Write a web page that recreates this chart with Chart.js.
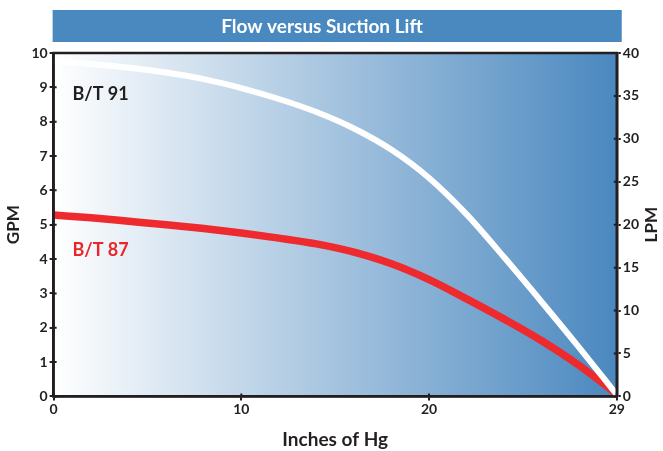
<!DOCTYPE html>
<html>
<head>
<meta charset="utf-8">
<script src="https://cdn.jsdelivr.net/npm/chart.js@4.4.0/dist/chart.umd.min.js"></script>
<style>
  html, body { margin: 0; padding: 0; background: #fff; }
  #wrap { width: 663px; height: 451px; }
</style>
</head>
<body>
<div id="wrap"><canvas id="flow"></canvas></div>
<script>
// inches of Hg (axis runs to the right edge, labelled 29)
var xValues = [0, 2, 4, 6, 8, 10, 12, 14, 16, 18, 20, 22, 24, 26, 28, 30];
// GPM
var bt91 = [9.76, 9.68, 9.57, 9.43, 9.24, 8.98, 8.66, 8.28, 7.8, 7.18, 6.36, 5.3, 4.05, 2.75, 1.42, 0.05];
var bt87 = [5.28, 5.2, 5.1, 5.0, 4.89, 4.76, 4.61, 4.44, 4.2, 3.86, 3.4, 2.84, 2.25, 1.62, 0.9, 0.07];
var xTicks = [0, 10, 20, 30];
var xTickLabels = ["0", "10", "20", "29"];

var FONT = "Lato";
var INK = "#231f20";

function pts(ys) {
  return xValues.map(function (x, i) { return {x: x, y: ys[i]}; });
}

// blue title band, gradient plot background, frame, inner tick marks, curve labels, LPM title
var decor = {
  id: "decor",
  beforeDraw: function (chart) {
    var ctx = chart.ctx, a = chart.chartArea, t = chart.titleBlock;
    ctx.save();
    ctx.fillStyle = "#4a89c0";
    ctx.fillRect(a.left - 1, t.top, a.right - a.left + 6, t.bottom - t.top - 11);
    var g = ctx.createLinearGradient(a.left, 0, a.right, 0);
    g.addColorStop(0, "#ffffff");
    g.addColorStop(1, "#4a88bf");
    ctx.fillStyle = g;
    ctx.fillRect(a.left, a.top, a.right - a.left, a.bottom - a.top);
    ctx.restore();
  },
  afterDatasetsDraw: function (chart) {
    var ctx = chart.ctx, a = chart.chartArea, s = chart.scales;
    ctx.save();
    ctx.strokeStyle = INK;
    ctx.lineWidth = 2.5;
    ctx.strokeRect(a.left, a.top, a.right - a.left, a.bottom - a.top);
    ctx.lineWidth = 2;
    ctx.beginPath();
    s.y.ticks.forEach(function (t) {
      var py = s.y.getPixelForValue(t.value);
      ctx.moveTo(a.left, py); ctx.lineTo(a.left + 3, py);
    });
    s.y2.ticks.forEach(function (t) {
      var py = s.y2.getPixelForValue(t.value);
      ctx.moveTo(a.right, py); ctx.lineTo(a.right - 3, py);
    });
    s.x.ticks.forEach(function (t) {
      var px = s.x.getPixelForValue(t.value);
      ctx.moveTo(px, a.bottom); ctx.lineTo(px, a.bottom - 3);
    });
    ctx.stroke();
    ctx.font = "bold 18px " + FONT;
    ctx.textBaseline = "alphabetic";
    ctx.fillStyle = INK;
    ctx.fillText("B/T 91", s.x.getPixelForValue(1), s.y.getPixelForValue(8.63));
    ctx.fillStyle = "#e8262c";
    ctx.fillText("B/T 87", s.x.getPixelForValue(1), s.y.getPixelForValue(4.1));
    // right axis title, reading bottom to top like the left one
    ctx.fillStyle = INK;
    ctx.font = "bold 17px " + FONT;
    ctx.textAlign = "center";
    ctx.textBaseline = "middle";
    ctx.translate(652, (a.top + a.bottom) / 2);
    ctx.rotate(-Math.PI / 2);
    ctx.fillText("LPM", 0, 0);
    ctx.restore();
  }
};

new Chart("flow", {
  type: "line",
  data: {
    datasets: [{
      label: "B/T 91",
      data: pts(bt91),
      borderColor: "#ffffff",
      borderWidth: 6,
      borderCapStyle: "round",
      pointRadius: 0,
      cubicInterpolationMode: "monotone",
      fill: false
    }, {
      label: "B/T 87",
      data: pts(bt87),
      borderColor: "#ee2a2e",
      borderWidth: 7.5,
      borderCapStyle: "round",
      pointRadius: 0,
      cubicInterpolationMode: "monotone",
      fill: false
    }]
  },
  options: {
    responsive: true,
    maintainAspectRatio: false,
    animation: false,
    layout: {padding: {top: 10, left: 3, right: 22, bottom: 0}},
    plugins: {
      legend: {display: false},
      tooltip: {enabled: false},
      title: {
        display: true,
        text: "Flow versus Suction Lift",
        color: "#ffffff",
        font: {family: FONT, size: 19, weight: "bold"},
        padding: {top: 5, bottom: 15.2}
      }
    },
    scales: {
      x: {
        type: "linear",
        min: 0,
        max: 30,
        afterBuildTicks: function (scale) {
          scale.ticks = xTicks.map(function (v) { return {value: v}; });
        },
        ticks: {
          color: INK,
          font: {family: FONT, size: 14, weight: "bold"},
          padding: 1,
          maxRotation: 0,
          callback: function (v) { return xTickLabels[xTicks.indexOf(v)]; }
        },
        grid: {drawOnChartArea: false, color: INK, lineWidth: 2, tickLength: 4},
        border: {color: INK, width: 2.5},
        title: {
          display: true,
          text: "Inches of Hg",
          color: INK,
          font: {family: FONT, size: 19, weight: "bold"},
          padding: {top: 9, bottom: 0}
        }
      },
      y: {
        position: "left",
        min: 0,
        max: 10,
        ticks: {
          stepSize: 1,
          color: INK,
          font: {family: FONT, size: 14, weight: "bold"},
          padding: 2
        },
        grid: {drawOnChartArea: false, color: INK, lineWidth: 2, tickLength: 4},
        border: {color: INK, width: 2.5},
        title: {
          display: true,
          text: "GPM",
          color: INK,
          font: {family: FONT, size: 17, weight: "bold"},
          padding: {top: 0, bottom: 6}
        }
      },
      y2: {
        position: "right",
        min: 0,
        max: 40,
        ticks: {
          stepSize: 5,
          color: INK,
          font: {family: FONT, size: 14, weight: "bold"},
          padding: 2
        },
        grid: {drawOnChartArea: false, color: INK, lineWidth: 2, tickLength: 4},
        border: {color: INK, width: 2.5}
      }
    }
  },
  plugins: [decor]
});
</script>
</body>
</html>
